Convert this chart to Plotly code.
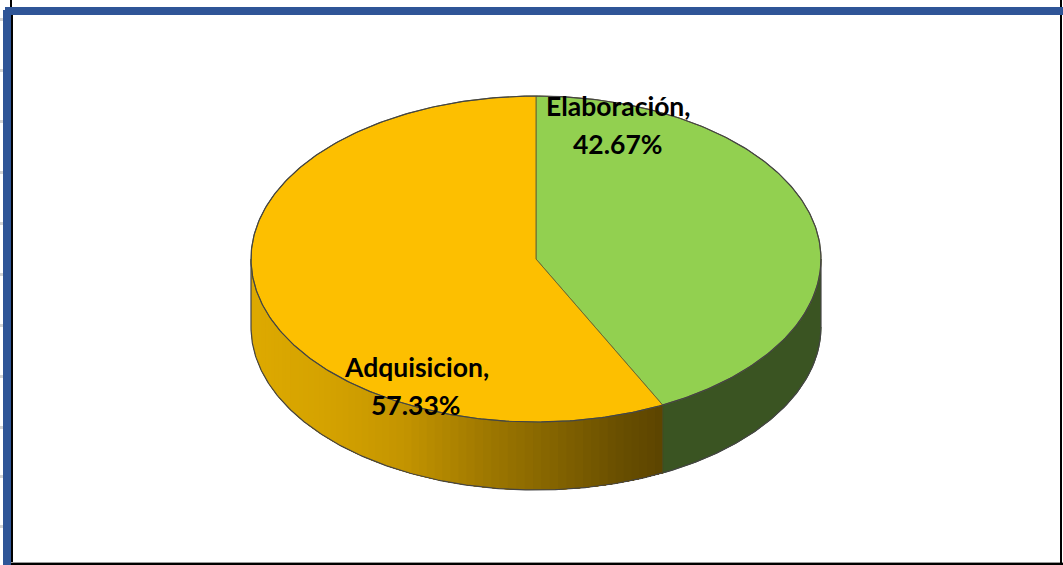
import numpy as np
import plotly.graph_objects as go

# Data
labels = ["Elaboración", "Adquisicion"]
values = [42.67, 57.33]

# Styling
top_colors = ["#92D050", "#FDBF00"]
green_wall = "#3A5422"
outline = "#444444"
wall_stops_x = [250, 330, 400, 480, 560, 620, 662]
wall_stops_rgb = [(222, 170, 0), (212, 162, 0), (196, 149, 0), (160, 121, 0), (128, 97, 0), (104, 78, 0), (92, 68, 0)]
cx, cy, rx, ry, depth = 536, 259, 285, 163, 68
label_pos = [(618, 106, 144), (416, 367, 405)]

def ex(t):
    return cx + rx * np.sin(t)

def ey(t):
    return cy - ry * np.cos(t)

fractions = np.array(values) / sum(values)
edges = np.concatenate([[0], np.cumsum(fractions)]) * 2 * np.pi
fig = go.Figure()

def poly(x, y, fill, line_color=None, width=1):
    fig.add_trace(go.Scatter(x=x, y=y, mode="lines", fill="toself", fillcolor=fill,
                             line=dict(color=line_color or fill, width=width),
                             hoverinfo="skip", showlegend=False))

# Green wall (visible from 90 degrees to the slice boundary)
t = np.linspace(np.pi / 2, edges[1], 80)
poly(np.r_[ex(t), ex(t[::-1])], np.r_[ey(t), ey(t[::-1]) + depth], green_wall)

# Yellow wall, gradient strips painted left to right over a growing span so no seams show
tb = np.linspace(3 * np.pi / 2, edges[1], 70)
for a in tb[:-1]:
    mx = ex(a)
    rgb = [np.interp(mx, wall_stops_x, [s[i] for s in wall_stops_rgb]) for i in range(3)]
    col = "rgb(%d,%d,%d)" % tuple(rgb)
    seg = np.linspace(a, edges[1], 60)
    poly(np.r_[ex(seg), ex(seg[::-1])], np.r_[ey(seg), ey(seg[::-1]) + depth], col, width=0)

# Wall outlines
t = np.linspace(np.pi / 2, 3 * np.pi / 2, 300)
fig.add_trace(go.Scatter(x=ex(t), y=ey(t) + depth, mode="lines", line=dict(color=outline, width=1.2),
                         hoverinfo="skip", showlegend=False))
for a in (np.pi / 2, 3 * np.pi / 2):
    fig.add_trace(go.Scatter(x=[ex(a), ex(a)], y=[ey(a), ey(a) + depth], mode="lines",
                             line=dict(color=outline, width=1.2), hoverinfo="skip", showlegend=False))
fig.add_trace(go.Scatter(x=[ex(edges[1]), ex(edges[1])], y=[ey(edges[1]), ey(edges[1]) + depth], mode="lines",
                         line=dict(color="#4a4a20", width=1), hoverinfo="skip", showlegend=False))

# Top faces
for i in range(2):
    t = np.linspace(edges[i], edges[i + 1], 300)
    poly(np.r_[cx, ex(t), cx], np.r_[cy, ey(t), cy], top_colors[i], line_color="#6a6a30", width=1)
t = np.linspace(0, 2 * np.pi, 500)
fig.add_trace(go.Scatter(x=ex(t), y=ey(t), mode="lines", line=dict(color=outline, width=1.2),
                         hoverinfo="skip", showlegend=False))

# Labels
for lab, val, (lx, y1, y2) in zip(labels, values, label_pos):
    for txt, ly in ((f"{lab},", y1), (f"{val:.2f}%", y2)):
        fig.add_annotation(x=lx, y=ly, text=f"<b>{txt}</b>", showarrow=False, xanchor="center", yanchor="middle",
                           font=dict(family="Lato", size=26.5, color="#000000"))

# Frame
shapes = [
    dict(x0=3, x1=11, y0=10, y1=565, fillcolor="#2F5597"),
    dict(x0=5, x1=1063, y0=7, y1=15, fillcolor="#2F5597"),
    dict(x0=11, x1=13, y0=15, y1=565, fillcolor="#000000"),
    dict(x0=10, x1=12, y0=0, y1=7, fillcolor="#000000"),
    dict(x0=11, x1=1063, y0=563, y1=565, fillcolor="#000000"),
    dict(x0=11, x1=1063, y0=562, y1=563, fillcolor="#999999"),
    dict(x0=1060, x1=1062, y0=0, y1=7, fillcolor="#000000"),
    dict(x0=1060, x1=1062, y0=15, y1=565, fillcolor="#000000"),
]
for yt in [19, 70, 121, 172, 223, 274, 325, 376, 427, 476, 526]:
    shapes.append(dict(x0=0, x1=3, y0=yt - 1, y1=yt + 2, fillcolor="#d4d4d4"))
for s in shapes:
    fig.add_shape(type="rect", xref="x", yref="y", line_width=0, layer="above", **s)

fig.update_layout(width=1063, height=565, margin=dict(l=0, r=0, t=0, b=0),
                  paper_bgcolor="white", plot_bgcolor="white", showlegend=False,
                  xaxis=dict(range=[0, 1063], visible=False, fixedrange=True),
                  yaxis=dict(range=[565, 0], visible=False, fixedrange=True))
fig.write_html("out.html", config={"displayModeBar": False},
               post_script="document.body.style.margin='0';document.documentElement.style.overflow='hidden';")
